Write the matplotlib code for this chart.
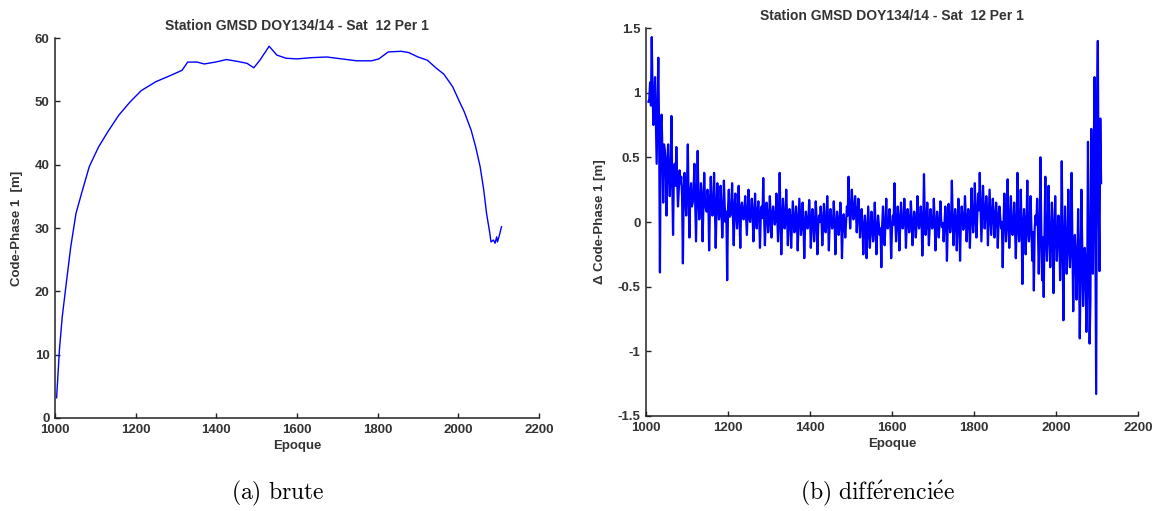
import numpy as np
import matplotlib.pyplot as plt

plt.rcParams['font.family'] = ['Liberation Sans', 'DejaVu Sans']
plt.rcParams['axes.unicode_minus'] = False
plt.rcParams['mathtext.fontset'] = 'cm'

TITLE = 'Station GMSD DOY134/14 - Sat  12 Per 1'

# raw code-phase (left panel)
raw_epoch = [1004, 1011, 1018, 1028, 1039, 1052, 1066, 1085, 1108, 1131,
             1158, 1186, 1214, 1250, 1287, 1315, 1329, 1352, 1370, 1398,
             1425, 1453, 1476, 1493, 1508, 1531, 1550, 1573, 1600, 1637,
             1674, 1711, 1748, 1785, 1803, 1826, 1858, 1877, 1900, 1923,
             1946, 1964, 1986, 2001, 2015, 2032, 2043, 2054, 2063, 2070,
             2078, 2081, 2087, 2091, 2095, 2097, 2102, 2107]
raw_value = [3.2, 10.8, 16.0, 21.3, 27.0, 32.3, 35.5, 39.7, 42.8, 45.2,
             47.8, 49.9, 51.7, 53.1, 54.1, 54.9, 56.2, 56.2, 55.9, 56.2,
             56.6, 56.3, 56.0, 55.3, 56.5, 58.7, 57.3, 56.8, 56.7, 56.9,
             57.0, 56.7, 56.4, 56.4, 56.7, 57.8, 57.9, 57.7, 57.0, 56.5,
             55.2, 54.3, 52.3, 50.2, 48.3, 45.4, 42.8, 39.7, 36.0, 32.3,
             29.2, 27.8, 28.1, 27.6, 28.6, 27.8, 28.9, 30.2]

# differenced code-phase (right panel), one value every 2 epochs from 1006
diff_epoch = np.arange(1006, 2111, 2)
diff_value = [
    0.93, 0.95, 1.08, 0.90, 1.43, 1.00, 0.75, 0.95, 1.12, 0.80, 0.45, 0.85, 1.27, 0.70, -0.39, 0.75, 0.83, 0.55, 0.15, 0.60,
    0.55, 0.42, 0.05, 0.48, 0.60, 0.35, 0.20, 0.40, 0.82, 0.30, -0.10, 0.38, 0.45, 0.28, 0.58, 0.33, 0.12, 0.25, 0.40, 0.30,
    0.35, 0.20, -0.32, 0.25, 0.38, 0.18, 0.05, 0.28, 0.60, 0.15, -0.12, 0.22, 0.30, 0.12, 0.15, 0.24, 0.45, 0.16, -0.15, 0.20,
    0.55, 0.18, 0.02, 0.12, 0.30, 0.20, -0.15, 0.10, 0.38, 0.16, 0.10, 0.08, 0.25, 0.18, -0.22, 0.12, 0.35, 0.14, 0.05, 0.10,
    0.38, 0.12, -0.20, 0.08, 0.30, 0.14, 0.02, 0.06, 0.28, 0.10, -0.12, 0.05, 0.32, 0.12, 0.00, 0.08, -0.45, 0.10, 0.25, 0.04,
    0.05, 0.10, 0.30, 0.04, -0.18, 0.12, 0.22, 0.06, -0.05, 0.09, 0.28, 0.03, -0.20, 0.11, 0.15, 0.07, 0.02, 0.10, 0.20, 0.05,
    -0.10, 0.08, 0.25, 0.03, 0.00, 0.09, 0.18, 0.05, -0.15, 0.07, 0.22, 0.02, -0.05, 0.08, 0.16, 0.04, -0.20, 0.06, 0.12, 0.03,
    0.34, 0.05, -0.18, 0.02, 0.15, 0.07, -0.08, 0.00, 0.20, 0.06, -0.12, 0.03, 0.12, 0.05, -0.02, 0.01, 0.22, 0.06, -0.15, 0.02,
    0.38, 0.04, -0.25, 0.01, 0.18, 0.06, -0.05, 0.00, 0.25, 0.05, -0.18, 0.02, 0.10, 0.03, -0.20, -0.01, 0.16, 0.04, -0.08, 0.00,
    0.12, 0.02, -0.22, -0.03, 0.18, 0.03, -0.10, -0.02, 0.15, 0.01, -0.28, -0.04, 0.08, 0.02, -0.05, -0.01, 0.17, 0.03, -0.20, -0.02,
    0.10, 0.01, -0.15, -0.02, 0.16, 0.03, -0.25, -0.03, 0.05, 0.00, 0.12, 0.02, -0.18, -0.02, 0.14, 0.01, -0.08, -0.01, 0.20, 0.02,
    -0.22, -0.02, 0.10, 0.01, -0.05, -0.03, 0.16, 0.00, -0.25, -0.04, 0.08, 0.01, -0.10, -0.02, 0.15, 0.02, -0.28, -0.03, 0.06, 0.00,
    -0.12, 0.00, 0.12, 0.05, 0.35, 0.10, -0.05, 0.08, 0.25, 0.12, 0.02, 0.10, 0.20, 0.09, -0.08, 0.05, 0.18, 0.06, -0.12, 0.02,
    0.10, -0.03, -0.25, -0.06, 0.05, -0.04, -0.28, -0.08, 0.12, -0.05, -0.20, -0.07, 0.08, -0.03, -0.15, -0.06, 0.15, -0.04, -0.25, -0.07,
    0.05, -0.02, -0.10, -0.05, -0.35, -0.03, 0.12, -0.06, -0.18, -0.02, 0.18, -0.04, -0.05, -0.01, 0.10, -0.03, -0.28, -0.05, 0.05, -0.02,
    0.30, 0.02, -0.15, -0.02, 0.12, 0.03, -0.22, -0.03, 0.15, 0.01, -0.05, -0.01, 0.18, 0.03, -0.20, -0.02, 0.10, 0.02, -0.08, -0.01,
    0.16, 0.01, -0.18, -0.03, 0.08, 0.02, -0.12, -0.02, 0.20, 0.03, -0.05, 0.00, 0.12, 0.02, -0.26, -0.03, 0.37, 0.03, -0.10, -0.01,
    0.15, 0.00, -0.18, -0.03, 0.10, 0.01, -0.05, -0.02, 0.18, 0.01, -0.22, -0.04, 0.08, 0.00, -0.12, -0.02, 0.16, 0.01, -0.04, -0.01,
    -0.15, -0.02, 0.12, 0.02, -0.30, -0.03, 0.14, 0.01, -0.08, -0.01, 0.32, 0.03, -0.18, -0.02, 0.10, 0.02, -0.22, -0.02, 0.18, 0.03,
    -0.30, 0.00, 0.12, 0.03, -0.06, 0.01, 0.20, 0.04, -0.15, 0.00, 0.10, 0.03, -0.20, 0.01, 0.26, 0.05, -0.08, 0.02, 0.30, 0.06,
    -0.12, 0.06, 0.22, 0.09, 0.38, 0.12, -0.15, 0.08, 0.28, 0.10, -0.05, 0.06, 0.20, 0.09, -0.18, 0.05, 0.25, 0.07, -0.10, 0.04,
    0.18, 0.05, -0.12, 0.02, 0.15, 0.04, -0.20, 0.01, 0.12, 0.03, -0.05, 0.00, -0.35, -0.02, 0.22, 0.03, -0.15, -0.01, 0.33, 0.02,
    -0.20, -0.02, 0.20, -0.04, -0.10, -0.01, 0.15, -0.05, -0.28, -0.03, 0.38, -0.02, -0.15, -0.06, 0.25, -0.03, -0.48, -0.05, 0.10, -0.02,
    -0.25, -0.04, 0.32, -0.07, -0.15, -0.03, 0.20, -0.06, -0.30, -0.08, -0.53, -0.05, 0.05, -0.02, 0.18, -0.06, -0.40, -0.09, 0.50, -0.04,
    -0.45, -0.12, -0.58, -0.08, 0.35, -0.14, -0.30, -0.06, 0.28, -0.10, -0.35, -0.15, 0.15, -0.05, -0.55, -0.12, 0.20, -0.08, -0.30, -0.13,
    0.05, -0.10, -0.45, -0.18, 0.47, -0.12, -0.76, -0.20, 0.12, -0.14, -0.40, -0.22, 0.25, -0.10, -0.35, -0.18, 0.38, -0.15, -0.69, -0.25,
    -0.10, -0.25, -0.60, -0.35, 0.10, -0.28, -0.90, -0.40, 0.25, -0.22, -0.65, -0.45, -0.20, -0.30, -0.85, -0.50, 0.62, -0.20, -0.94, -0.60,
    0.72, 0.30, -0.40, 0.50, 1.12, -0.10, -1.33, 0.90, 1.40, 0.20, -0.38, 0.80, 0.30,
]

W, H = 1159, 511
fig = plt.figure(figsize=(W / 100, H / 100), dpi=100)
INK = '#333333'


def style(ax):
    for s in ('top', 'right'):
        ax.spines[s].set_visible(False)
    for s in ('left', 'bottom'):
        ax.spines[s].set_color('#222222')
        ax.spines[s].set_linewidth(1.1)
    ax.tick_params(direction='in', length=3.6, width=1.0, colors='#222222',
                   labelsize=9.5, labelcolor=INK, pad=4)
    for lab in ax.get_xticklabels() + ax.get_yticklabels():
        lab.set_fontweight('bold')
    ax.set_xlim(1000, 2200)
    ax.set_xticks(range(1000, 2201, 200))
    ax.set_xlabel('Epoque', fontsize=9.5, fontweight='bold', color=INK, labelpad=3)
    ax.set_title(TITLE, fontsize=10, fontweight='bold', color=INK, pad=6)


ax1 = fig.add_axes([55 / W, 1 - 418 / H, 484 / W, 380 / H])
ax1.plot(raw_epoch, raw_value, color='#0000ff', lw=1.0)
ax1.set_ylim(0, 60)
ax1.set_yticks(range(0, 61, 10))
style(ax1)
ax1.set_ylabel('Code-Phase 1  [m]', fontsize=9.5, fontweight='bold', color=INK, labelpad=8)

ax2 = fig.add_axes([646 / W, 1 - 416 / H, 492 / W, 388 / H])
ax2.plot(diff_epoch, diff_value, color='#0000ff', lw=1.6)
ax2.set_ylim(-1.5, 1.5)
ax2.set_yticks([-1.5, -1, -0.5, 0, 0.5, 1, 1.5])
ax2.set_yticklabels(['-1.5', '-1', '-0.5', '0', '0.5', '1', '1.5'])
style(ax2)
ax2.set_ylabel('Δ Code-Phase 1 [m]', fontsize=9.5, fontweight='bold', color=INK, labelpad=8)

fig.text(278 / W, 1 - 493 / H, r'$\mathrm{(a)\ brute}$', ha='center', va='center',
         fontsize=17)
fig.text(877 / W, 1 - 493 / H, r'$\mathrm{(b)\ diff\acute{e}renci\acute{e}e}$',
         ha='center', va='center', fontsize=17)

fig.savefig('out.png', dpi=100)
